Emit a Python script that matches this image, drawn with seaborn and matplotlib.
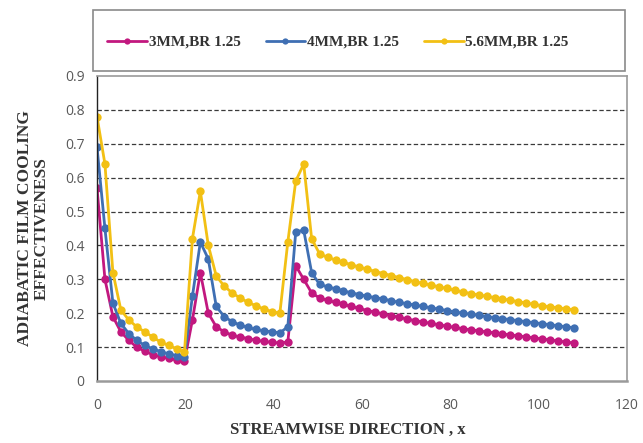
import matplotlib
matplotlib.use("Agg")
import matplotlib.pyplot as plt
from matplotlib.patches import Rectangle
import pandas as pd
import seaborn as sns

sns.set_style("white")

# streamwise positions (shared by all three series)
x_pos = [0, 1.8, 3.6, 5.4, 7.2, 9, 10.8, 12.6, 14.4, 16.2, 18, 19.8, 21.6, 23.4, 25.2,
         27, 28.8, 30.6, 32.4, 34.2, 36, 37.8, 39.6, 41.4, 43.2, 45, 46.8, 48.6, 50.4,
         52.2, 54, 55.8, 57.6, 59.4, 61.2, 63, 64.8, 66.6, 68.4, 70.2, 72, 73.8, 75.6,
         77.4, 79.2, 81, 82.8, 84.6, 86.4, 88.2, 90, 91.8, 93.6, 95.4, 97.2, 99, 100.8,
         102.6, 104.4, 106.2, 108]

eff_3mm = [0.57, 0.30, 0.19, 0.145, 0.12, 0.10, 0.088, 0.078, 0.072, 0.067, 0.062, 0.058,
           0.18, 0.32, 0.20, 0.16, 0.145, 0.135, 0.13, 0.125, 0.12, 0.117, 0.114, 0.112,
           0.115, 0.34, 0.30, 0.26, 0.245,
           0.238, 0.232, 0.226, 0.22, 0.214, 0.208, 0.203, 0.198, 0.193, 0.188, 0.183,
           0.178, 0.174, 0.17, 0.166, 0.162, 0.158, 0.154, 0.151, 0.148, 0.145, 0.142,
           0.139, 0.136, 0.133, 0.13, 0.127, 0.124, 0.121, 0.118, 0.115, 0.112]

eff_4mm = [0.69, 0.45, 0.23, 0.17, 0.14, 0.12, 0.105, 0.095, 0.087, 0.08, 0.075, 0.07,
           0.25, 0.41, 0.36, 0.22, 0.19, 0.175, 0.165, 0.158, 0.152, 0.148, 0.145, 0.142,
           0.16, 0.44, 0.445, 0.32, 0.285,
           0.278, 0.272, 0.266, 0.26, 0.255, 0.25, 0.246, 0.242, 0.237, 0.232, 0.228,
           0.224, 0.22, 0.216, 0.212, 0.208, 0.204, 0.2, 0.197, 0.194, 0.19, 0.187,
           0.184, 0.181, 0.178, 0.175, 0.172, 0.169, 0.166, 0.163, 0.16, 0.157]

eff_56mm = [0.78, 0.64, 0.32, 0.21, 0.18, 0.16, 0.145, 0.13, 0.115, 0.105, 0.095, 0.085,
            0.42, 0.56, 0.40, 0.31, 0.28, 0.26, 0.245, 0.232, 0.222, 0.212, 0.205, 0.20,
            0.41, 0.59, 0.64, 0.42, 0.375,
            0.365, 0.357, 0.35, 0.343, 0.336, 0.33, 0.323, 0.317, 0.311, 0.305, 0.299,
            0.293, 0.288, 0.283, 0.278, 0.273, 0.268, 0.263, 0.258, 0.254, 0.25, 0.246,
            0.242, 0.238, 0.234, 0.23, 0.226, 0.222, 0.219, 0.216, 0.213, 0.21]

labels = ["3MM,BR 1.25", "4MM,BR 1.25", "5.6MM,BR 1.25"]
colors = ["#C2187F", "#3F6FB3", "#F2C014"]

df = pd.concat([
    pd.DataFrame({"x": x_pos, "eff": vals, "case": lab})
    for lab, vals in zip(labels, [eff_3mm, eff_4mm, eff_56mm])
])

fig = plt.figure(figsize=(6.43, 4.43), dpi=100)
ax = fig.add_axes([97 / 643, 1 - 381 / 443, 530 / 643, 305 / 443])

sns.lineplot(data=df, x="x", y="eff", hue="case", palette=colors, ax=ax,
             marker="o", markersize=6, markeredgewidth=0, linewidth=2.0,
             sort=False, legend=True)

ax.set_xlim(0, 120)
ax.set_ylim(0, 0.9)
ax.set_xticks(range(0, 121, 20))
ax.set_yticks([i / 10 for i in range(10)])
ax.set_yticklabels(["0"] + [f"{i / 10:.1f}" for i in range(1, 10)])
ax.tick_params(axis="both", labelsize=10, labelcolor="#595959", length=0)
ax.tick_params(axis="x", pad=12)
ax.tick_params(axis="y", pad=9)
for lab in ax.get_xticklabels() + ax.get_yticklabels():
    lab.set_fontfamily("Open Sans")

for yv in [i / 10 for i in range(1, 9)]:
    ax.axhline(yv, color="#3a3a3a", lw=0.9, ls=(0, (3.5, 2)), zorder=0)

for side in ["top", "right", "bottom"]:
    ax.spines[side].set_color("#9a9a9a")
    ax.spines[side].set_linewidth(1.2)
ax.spines["bottom"].set_linewidth(1.8)
ax.spines["left"].set_color("#222222")
ax.spines["left"].set_linewidth(1.0)

serif_bold = {"family": "Liberation Serif", "weight": "bold"}
ax.set_xlabel("STREAMWISE DIRECTION , x", fontdict=serif_bold, fontsize=12,
              color="#333333")
ax.xaxis.set_label_coords(0.474, -0.135)
ax.set_ylabel("ADIABATIC FILM COOLING\nEFFECTIVENESS", fontdict=serif_bold,
              fontsize=12.5, color="#333333", linespacing=1.05)
ax.yaxis.set_label_coords(-0.089, 0.5)

# legend in its own box above the plot
handles, _ = ax.get_legend_handles_labels()
ax.get_legend().remove()
for h in handles:
    h.set_markersize(4.5)
fig.patches.append(Rectangle((93 / 643, 1 - 71 / 443), 532 / 643, 61 / 443,
                             transform=fig.transFigure, fill=False,
                             edgecolor="#8a8a8a", linewidth=1.2))
fig.legend(handles, labels, loc="center", ncol=3, frameon=False,
           bbox_to_anchor=(338 / 643, 1 - 42 / 443),
           prop={"family": "Liberation Serif", "weight": "bold", "size": 11},
           handlelength=2.6, handletextpad=0.1, columnspacing=1.65, labelcolor="#333333")

fig.savefig("out.png", dpi=100)
